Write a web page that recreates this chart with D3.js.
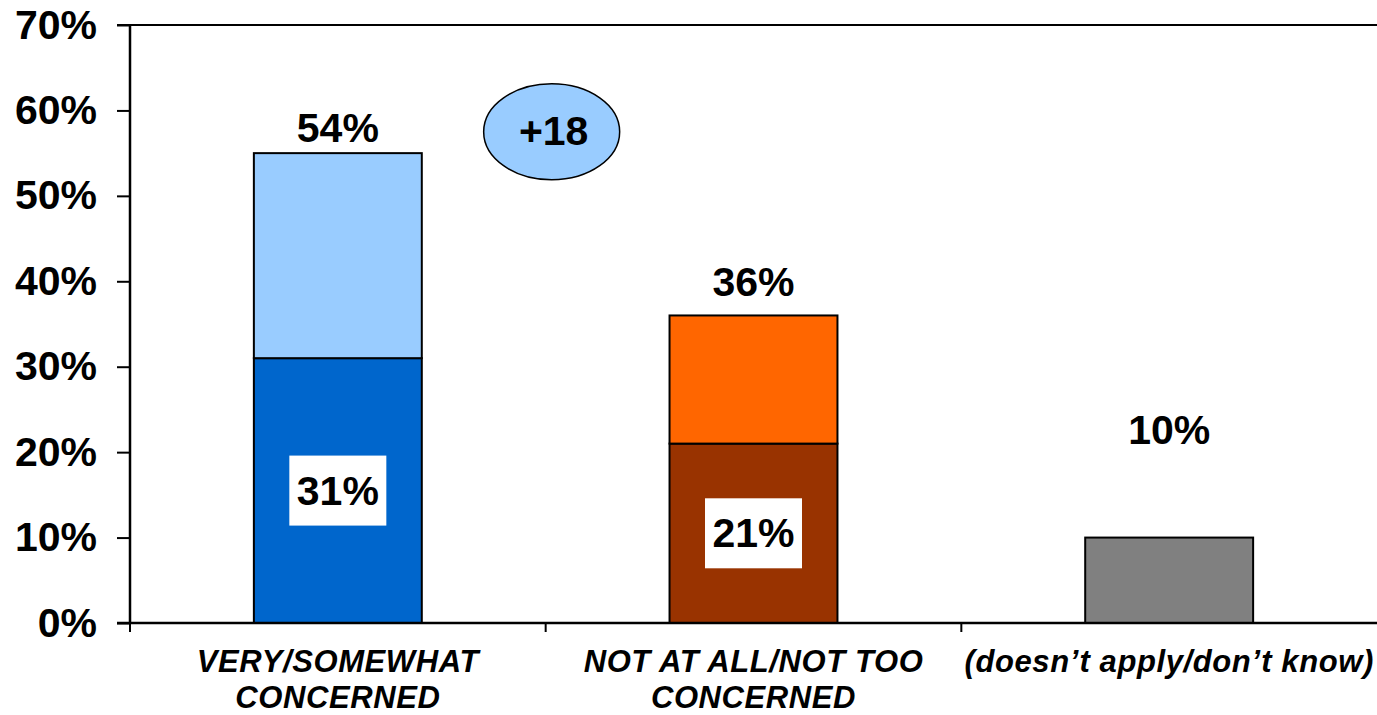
<!DOCTYPE html>
<html>
<head>
<meta charset="utf-8">
<script src="https://cdn.jsdelivr.net/npm/d3@7"></script>
<style>
  html, body { margin: 0; padding: 0; background: #fff; }
  svg { display: block; }
  text { font-family: "Liberation Sans", Arial, Helvetica, sans-serif; font-weight: bold; }
</style>
</head>
<body>
<svg id="chart" width="1377" height="715"></svg>
<script>
// ---- data ----
const categories = [
  ["VERY/SOMEWHAT", "CONCERNED"],
  ["NOT AT ALL/NOT TOO", "CONCERNED"],
  ["(doesn\u2019t apply/don\u2019t know)"]
];
const strongValues = [31, 21, 10];      // bottom segment
const weakValues   = [24, 15, 0];       // upper segment
const totalLabels  = ["54%", "36%", "10%"];
const totalLabelAt = [56.3, 38.3, 21.0]; // label baseline in axis units
const innerLabels  = ["31%", "21%", null];
const yTicks = [0, 10, 20, 30, 40, 50, 60, 70];
const gapLabel = "+18";
const strongColors = ["#0066CC", "#993300", "#808080"];
const weakColors   = ["#99CCFF", "#FF6600", "#808080"];

// ---- layout ----
const svg = d3.select("#chart");
const mLeft = 130, mRight = 1377, mTop = 25, mBottom = 623;

const x = d3.scaleBand().domain(d3.range(categories.length)).range([mLeft, mRight]).padding(0);
const y = d3.scaleLinear().domain([0, 70]).range([mBottom, mTop]);
const barW = x.bandwidth() * 0.404;

// top border
svg.append("line").attr("x1", mLeft - 13).attr("x2", mRight).attr("y1", y(70)).attr("y2", y(70))
  .attr("stroke", "#000").attr("stroke-width", 2);

// y axis
const yAxis = svg.append("g").attr("transform", `translate(${mLeft},0)`)
  .call(d3.axisLeft(y).tickValues(yTicks).tickSize(13).tickPadding(20).tickFormat(d => d + "%"));
yAxis.select(".domain").attr("stroke", "#000").attr("stroke-width", 2.5).attr("d", `M0,${y(70)}V${y(0)}`);
yAxis.selectAll(".tick line").attr("stroke", "#000").attr("stroke-width", 2);
yAxis.selectAll(".tick text").attr("font-size", 41).attr("font-weight", "bold").attr("fill", "#000")
  .attr("font-family", "'Liberation Sans', Arial, sans-serif");

// bars
const g = svg.append("g");
categories.forEach((c, i) => {
  const cx = x(i) + x.bandwidth() / 2;
  const x0 = cx - barW / 2;
  g.append("rect").attr("x", x0).attr("width", barW)
    .attr("y", y(strongValues[i])).attr("height", y(0) - y(strongValues[i]))
    .attr("fill", strongColors[i]).attr("stroke", "#000").attr("stroke-width", 2);
  if (weakValues[i] > 0) {
    const tot = strongValues[i] + weakValues[i];
    g.append("rect").attr("x", x0).attr("width", barW)
      .attr("y", y(tot)).attr("height", y(strongValues[i]) - y(tot))
      .attr("fill", weakColors[i]).attr("stroke", "#000").attr("stroke-width", 2);
  }
  g.append("text").attr("x", cx).attr("y", y(totalLabelAt[i]))
    .attr("text-anchor", "middle").attr("font-size", 41).text(totalLabels[i]);
  if (innerLabels[i]) {
    const my = y(strongValues[i] / 2);
    const bw = 97, bh = 70;
    g.append("rect").attr("x", cx - bw / 2).attr("y", my - bh / 2).attr("width", bw).attr("height", bh)
      .attr("fill", "#fff");
    g.append("text").attr("x", cx).attr("y", my + 14)
      .attr("text-anchor", "middle").attr("font-size", 41).text(innerLabels[i]);
  }
});

// gap ellipse
const ex = x(0) + x.bandwidth() * 1.0 + 6, ey = y(57.5);
svg.append("ellipse").attr("cx", ex).attr("cy", ey).attr("rx", 68).attr("ry", 48)
  .attr("fill", "#99CCFF").attr("stroke", "#000").attr("stroke-width", 1.5);
svg.append("text").attr("x", ex + 2).attr("y", ey + 13).attr("text-anchor", "middle")
  .attr("font-size", 41).text(gapLabel);

// x axis
svg.append("line").attr("x1", mLeft - 13).attr("x2", mRight).attr("y1", y(0)).attr("y2", y(0))
  .attr("stroke", "#000").attr("stroke-width", 2.5);
d3.range(categories.length).forEach(i => {
  svg.append("line").attr("x1", x(i)).attr("x2", x(i)).attr("y1", y(0)).attr("y2", y(0) + 9)
    .attr("stroke", "#000").attr("stroke-width", 2);
});

// category labels
categories.forEach((lines, i) => {
  const cx = x(i) + x.bandwidth() / 2;
  const t = svg.append("text").attr("text-anchor", "middle").attr("font-size", 31)
    .attr("letter-spacing", 0.6).attr("font-style", "italic");
  lines.forEach((ln, j) => {
    t.append("tspan").attr("x", cx).attr("y", 672 + j * 36).text(ln);
  });
});
</script>
</body>
</html>
